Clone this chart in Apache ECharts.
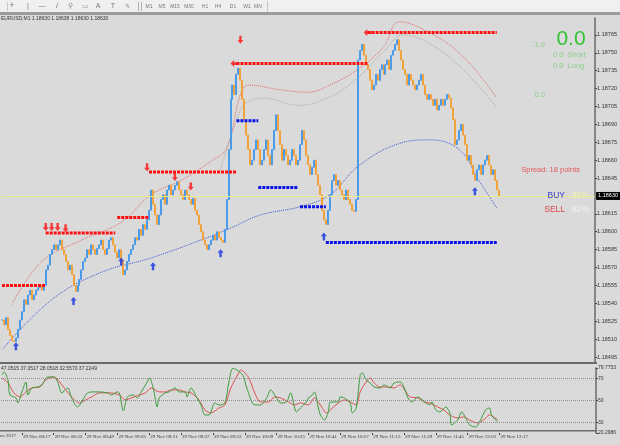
<!DOCTYPE html>
<html><head><meta charset="utf-8">
<script src="https://cdn.jsdelivr.net/npm/echarts@6/dist/echarts.min.js"></script>
<style>html,body{margin:0;padding:0;background:#dadada;}#c{width:620px;height:445px;}</style>
</head><body><div id="c"></div>
<script>
// ---------- data ----------
const symbolName = 'EURUSD,M1';
const quoteHeader = '1.18630 1.18638 1.18630 1.18630';
const dayLabel = '29 Nov';
const dateLabel = '29 Nov 2017';
const startTime = '08:07';
const slotCount = 299;
const timeTicks = ['08:17','08:33','08:49','09:05','09:21','09:37','09:53','10:09','10:25','10:41','10:57','11:13','11:29','11:45','12:01','12:17'];
const priceTicks = [1.18495,1.18510,1.18525,1.18540,1.18555,1.18570,1.18585,1.18600,1.18615,1.18630,1.18645,1.18660,1.18675,1.18690,1.18705,1.18720,1.18735,1.18750,1.18765];
const currentPrice = 1.18630;
const closes = [
1.18526,1.18522,1.18528,1.18518,1.18513,1.18509,1.18508,1.18511,1.18518,1.18526,
1.18533,1.18543,1.18539,1.18547,1.18551,1.18543,1.18547,1.18551,1.18553,1.18555,
1.18551,1.18555,1.18568,1.18572,1.18581,1.18585,1.18589,1.18585,1.18589,1.18593,
1.18585,1.18581,1.18575,1.18568,1.18572,1.18564,1.18555,1.18550,1.18555,1.18560,
1.18568,1.18575,1.18578,1.18585,1.18581,1.18589,1.18585,1.18581,1.18586,1.18589,
1.18593,1.18585,1.18581,1.18586,1.18593,1.18595,1.18589,1.18583,1.18578,1.18585,
1.18575,1.18564,1.18568,1.18575,1.18581,1.18585,1.18589,1.18595,1.18593,1.18602,
1.18597,1.18606,1.18602,1.18610,1.18618,1.18635,1.18623,1.18614,1.18606,1.18614,
1.18627,1.18631,1.18623,1.18635,1.18639,1.18631,1.18635,1.18639,1.18642,1.18635,
1.18631,1.18627,1.18635,1.18631,1.18627,1.18623,1.18628,1.18618,1.18614,1.18606,
1.18600,1.18593,1.18589,1.18585,1.18589,1.18593,1.18597,1.18593,1.18600,1.18595,
1.18593,1.18591,1.18602,1.18627,1.18669,1.18711,1.18723,1.18715,1.18732,1.18737,
1.18727,1.18711,1.18694,1.18681,1.18669,1.18656,1.18660,1.18669,1.18677,1.18669,
1.18656,1.18660,1.18669,1.18677,1.18664,1.18656,1.18669,1.18685,1.18698,1.18685,
1.18673,1.18660,1.18669,1.18664,1.18656,1.18660,1.18669,1.18664,1.18656,1.18660,
1.18673,1.18685,1.18677,1.18664,1.18656,1.18648,1.18654,1.18660,1.18648,1.18639,
1.18631,1.18618,1.18610,1.18606,1.18618,1.18631,1.18643,1.18648,1.18639,1.18643,
1.18635,1.18631,1.18627,1.18635,1.18627,1.18623,1.18618,1.18617,1.18627,1.18744,
1.18752,1.18757,1.18748,1.18740,1.18736,1.18727,1.18719,1.18723,1.18732,1.18727,
1.18736,1.18740,1.18732,1.18740,1.18744,1.18736,1.18748,1.18752,1.18757,1.18761,
1.18752,1.18744,1.18736,1.18732,1.18723,1.18732,1.18727,1.18723,1.18719,1.18723,
1.18727,1.18732,1.18723,1.18715,1.18711,1.18715,1.18711,1.18706,1.18711,1.18702,
1.18706,1.18711,1.18706,1.18711,1.18715,1.18712,1.18704,1.18694,1.18673,1.18677,
1.18685,1.18690,1.18681,1.18673,1.18660,1.18664,1.18656,1.18648,1.18643,1.18652,
1.18656,1.18648,1.18656,1.18660,1.18664,1.18656,1.18648,1.18652,1.18643,1.18635,
1.18630];
// [startBar, endBar, price]
const redLevels = [[0,22,1.18555],[22,57,1.18599],[58,74,1.18612],[74,118,1.18650],[118,184,1.18741],[184,249,1.18767]];
const blueLevels = [[118,129,1.18693],[129,149,1.18637],[150,163,1.18621],[163,249,1.18591]];
// [bar, price]
const sellArrows = [[22,1.18604],[25,1.18604],[28,1.18604],[32,1.18603],[73,1.18654],[87,1.18646],[95,1.18638],[120,1.18761]];
const buyArrows = [[7,1.18504],[36,1.18542],[60,1.18575],[76,1.18571],[110,1.18582],[162,1.18596],[238,1.18634]];
const levelStartArrows = [[117,1.18741],[184,1.18767]];
const bandUpper = [[5,1.18539],[20,1.18575],[40,1.18593],[60,1.18608],[75,1.18631],[90,1.18643],[105,1.18659],[113,1.18670],[120,1.18715],[124,1.18723],[140,1.18719],[154,1.18717],[165,1.18723],[179,1.18736],[192,1.18755],[200,1.18776],[215,1.18767],[232,1.18747],[249,1.18712]];
const bandMid = [[110,1.18652],[120,1.18702],[124,1.18709],[132,1.18712],[149,1.18706],[165,1.18713],[179,1.18729],[192,1.18751],[202,1.18765],[215,1.18758],[232,1.18736],[249,1.18704]];
const bandLower = [[0,1.18501],[25,1.18543],[50,1.18566],[75,1.18578],[100,1.18593],[115,1.18603],[130,1.18614],[150,1.18621],[165,1.18631],[180,1.18656],[200,1.18674],[215,1.18677],[230,1.18669],[240,1.18643],[249,1.18620]];
const stochMain = [[0,73.4],[1,76.2],[3,68.8],[4,55.1],[7,52.4],[8,47.8],[10,57.9],[12,67.0],[13,55.1],[15,61.5],[18,62.4],[20,64.3],[23,71.6],[26,71.6],[28,67.0],[30,57.0],[33,61.5],[35,52.4],[38,44.1],[40,48.7],[43,57.0],[46,57.9],[49,57.9],[53,57.0],[55,55.1],[58,57.9],[59,57.0],[61,40.5],[63,53.3],[66,55.1],[68,52.4],[70,57.9],[73,67.0],[74,70.7],[76,61.5],[78,44.1],[79,52.4],[82,57.0],[84,57.9],[87,61.5],[89,57.9],[92,57.9],[93,53.3],[95,61.5],[98,52.4],[100,46.0],[102,36.8],[104,36.8],[107,47.8],[109,46.0],[112,47.8],[114,67.0],[116,79.5],[118,78.0],[121,73.4],[123,61.5],[127,46.0],[130,46.0],[133,52.4],[135,59.7],[138,52.4],[140,47.8],[143,48.7],[145,57.0],[148,39.6],[150,43.2],[153,48.7],[154,52.4],[156,55.1],[157,57.9],[159,43.2],[160,36.8],[162,32.2],[164,39.6],[165,48.7],[169,48.7],[170,53.3],[172,52.4],[175,47.8],[176,38.7],[178,43.2],[180,73.4],[181,75.3],[183,68.8],[185,66.1],[187,62.4],[190,61.5],[192,64.3],[195,61.5],[197,66.1],[200,67.0],[202,62.4],[204,52.4],[206,48.7],[209,53.3],[210,52.4],[213,47.8],[215,46.0],[216,48.7],[218,41.4],[220,39.6],[223,44.1],[225,38.7],[226,27.7],[229,32.2],[231,39.6],[233,34.1],[235,27.7],[238,25.8],[240,30.4],[243,41.4],[245,43.2],[246,36.8],[249,30.4]];
const stochSignal = [[0,70.7],[3,66.1],[6,57.0],[9,53.3],[12,57.9],[15,61.5],[19,62.4],[22,68.8],[26,71.6],[29,67.0],[32,59.7],[35,53.3],[39,47.8],[42,50.5],[45,53.3],[49,57.0],[54,57.0],[59,55.1],[62,50.5],[65,52.4],[69,55.1],[72,57.0],[75,61.5],[79,57.9],[82,57.9],[85,59.7],[89,59.7],[92,57.9],[95,57.0],[99,50.5],[102,41.4],[105,38.7],[109,43.2],[112,46.0],[115,61.5],[119,75.3],[120,78.0],[124,70.7],[127,57.0],[130,48.7],[134,48.7],[137,53.3],[140,52.4],[144,48.7],[147,46.0],[150,47.8],[154,46.0],[157,52.4],[160,46.0],[163,38.7],[165,41.4],[169,47.8],[172,50.5],[175,48.7],[178,46.0],[180,57.9],[183,67.0],[185,70.7],[187,66.1],[190,62.4],[194,62.4],[197,61.5],[200,64.3],[203,57.9],[205,53.3],[209,52.4],[212,48.7],[215,47.8],[219,44.1],[222,41.4],[225,36.8],[229,34.1],[232,35.0],[235,32.2],[239,29.5],[242,32.2],[245,36.8],[247,35.0],[249,32.2]];
const stochTicks = [20.2986,30,50,70,79.7753];
const stochLevels = [30,50,70];
const stochHeader = '47.0515 37.0517 28.0518 32.5570 37.2249';
const panelTexts = {sum:'0.0', net:'-1.9', shortTxt:'0.0  Short', longTxt:'0.0  Long', mid:'0.0', spread:'Spread: 18 points', buy:'BUY', buyPct:'36%', sell:'SELL', sellPct:'62%'};
const toolbarFrames = ['M1','M5','M15','M30','H1','H4','D1','W1','MN'];

// ---------- helpers ----------
const toPts = p => Math.round((p - 1.18) * 1e7) / 100;
const cats = [];
{ let [h, m] = startTime.split(':').map(Number);
  for (let i = 0; i < slotCount; i++) { cats.push(String(h).padStart(2,'0') + ':' + String(m).padStart(2,'0')); m++; if (m === 60) { m = 0; h++; } } }
const candles = closes.map((c, i) => { const o = i ? closes[i-1] : c; return [toPts(o), toPts(c), toPts(Math.min(o,c)), toPts(Math.max(o,c))]; });
const FONT = 'Liberation Sans';
const NARROW = 'Liberation Sans Narrow';
const showTime = (idx) => timeTicks.includes(cats[idx]);

const series = [];
series.push({type:'candlestick', xAxisIndex:0, yAxisIndex:0, data:candles, barWidth:1.5, z:3,
  itemStyle:{color:'#4b9be8', color0:'#f2a23c', borderColor:'#4b9be8', borderColor0:'#f2a23c', borderWidth:1},
  markLine:{silent:true, symbol:'none', animation:false, data:[{yAxis:toPts(currentPrice)}],
    lineStyle:{color:'#e9e98e', width:1, type:'solid'},
    label:{show:true, position:'end', distance:1, formatter: currentPrice.toFixed(5), backgroundColor:'#000', color:'#fff', fontSize:5.5, fontFamily:FONT, padding:[1,2]}}});
[[bandUpper,'#e06868'],[bandMid,'#a9a9a9'],[bandLower,'#3c56d6']].forEach(([arr,col]) => {
  series.push({type:'line', xAxisIndex:0, yAxisIndex:0, data:arr.map(([i,p]) => [i,toPts(p)]), smooth:0.4, showSymbol:false, z:2,
    lineStyle:{type:'dotted', color:col, width:1}});
});
redLevels.forEach(([a,b,p]) => series.push({type:'line', xAxisIndex:0, yAxisIndex:0, data:[[a,toPts(p)],[b,toPts(p)]], showSymbol:false, z:4,
  lineStyle:{color:'#ff1010', width:3, type:[3,1]}}));
blueLevels.forEach(([a,b,p]) => series.push({type:'line', xAxisIndex:0, yAxisIndex:0, data:[[a,toPts(p)],[b,toPts(p)]], showSymbol:false, z:4,
  lineStyle:{color:'#0a14e6', width:3, type:[3,1]}}));
series.push({type:'scatter', xAxisIndex:0, yAxisIndex:0, data:sellArrows.map(([i,p]) => [i,toPts(p)]), z:5,
  symbol:'path://M3,0 L7,0 L7,6 L10,6 L5,11 L0,6 L3,6 Z', symbolSize:[6,8], itemStyle:{color:'#ff1010'}});
series.push({type:'scatter', xAxisIndex:0, yAxisIndex:0, data:buyArrows.map(([i,p]) => [i,toPts(p)]), z:5,
  symbol:'path://M5,0 L10,5 L7,5 L7,11 L3,11 L3,5 L0,5 Z', symbolSize:[6,8], itemStyle:{color:'#1030e0'}});
series.push({type:'scatter', xAxisIndex:0, yAxisIndex:0, data:levelStartArrows.map(([i,p]) => [i,toPts(p)]), z:5,
  symbol:'path://M0,5 L5,0 L5,3 L11,3 L11,7 L5,7 L5,10 Z', symbolSize:[8,7], itemStyle:{color:'#ff1010'}});
series.push({type:'line', xAxisIndex:1, yAxisIndex:1, data:stochSignal, smooth:0.3, showSymbol:false, z:3, lineStyle:{color:'#e05050', width:1},
  markLine:{silent:true, symbol:'none', animation:false, label:{show:false}, lineStyle:{color:'#8e8e8e', type:'dotted', width:1}, data:stochLevels.map(v => ({yAxis:v}))}});
series.push({type:'line', xAxisIndex:1, yAxisIndex:1, data:stochMain, smooth:0.3, showSymbol:false, z:4, lineStyle:{color:'#3c9c3c', width:1}});

const T = (x, y, text, fill, size, extra) => Object.assign({type:'text', x, y, z:20, silent:true,
  style:Object.assign({text, fill, fontSize:size, fontFamily:FONT, verticalAlign:'middle', align:'left'}, extra || {})});
const graphics = [
  {type:'rect', shape:{x:0,y:0,width:620,height:13}, style:{fill:'#f0f0f0'}, z:10},
  {type:'rect', shape:{x:0,y:12,width:620,height:3}, style:{fill:'#9c9c9c'}, z:10},
  {type:'rect', shape:{x:0,y:362,width:597,height:2}, style:{fill:'#6a6a6a'}, z:10},
  {type:'rect', shape:{x:0,y:430,width:597,height:1.5}, style:{fill:'#6a6a6a'}, z:10},
  T(12,6,'+','#777',9,{align:'center'}), T(28,6,'|','#777',7,{align:'center'}), T(42,6,'—','#777',7,{align:'center'}),
  T(57,6,'/','#777',8,{align:'center'}), T(70,6,'⚲','#888',7,{align:'center'}), T(85,6,'▭','#999',7,{align:'center'}),
  T(98,6,'A','#777',7,{align:'center'}), T(113,6,'T','#777',7,{align:'center'}), T(127,6,'✎','#888',6,{align:'center'}),
  {type:'rect', shape:{x:7,y:2,width:1,height:9}, style:{fill:'#c8c8c8'}, z:11},
  {type:'rect', shape:{x:138,y:2,width:1,height:9}, style:{fill:'#b0b0b0'}, z:11},
  {type:'rect', shape:{x:141,y:2,width:1,height:9}, style:{fill:'#b0b0b0'}, z:11},
  {type:'rect', shape:{x:267,y:1,width:1,height:11}, style:{fill:'#c8c8c8'}, z:11},
  T(1,19, symbolName + ' ' + quoteHeader, '#333', 5),
  T(1,368.5, stochHeader, '#333', 5),
  T(16,436, dateLabel, '#333', 5, {align:'right', fontFamily:NARROW}),
  T(545,45, panelTexts.net, '#8ccf8c', 7.5, {align:'right'}),
  T(571,39, panelTexts.sum, '#35c435', 21, {align:'center'}),
  T(553,55, panelTexts.shortTxt, '#8ccf8c', 7.5),
  T(553,65.5, panelTexts.longTxt, '#8ccf8c', 7.5),
  T(545,95, panelTexts.mid, '#8ccf8c', 7.5, {align:'right'}),
  T(580,170, panelTexts.spread, '#e25a5a', 7.5, {align:'right'}),
  T(565,196, panelTexts.buy, '#3c3cc8', 8.5, {align:'right'}),
  T(572,196, panelTexts.buyPct, '#f2f2a8', 8.5),
  T(565,210, panelTexts.sell, '#e04848', 8.5, {align:'right'}),
  T(572,210, panelTexts.sellPct, '#f4f4f4', 8.5)
];
toolbarFrames.forEach((f, k) => graphics.push(T([149,162,175,189,205,218,233,247,258][k], 6.5, f, '#777', 5, {align:'center'})));

const chart = echarts.init(document.getElementById('c'), null, {renderer:'canvas'});
chart.setOption({
  backgroundColor:'#dadada', animation:false,
  grid:[{left:1, top:18, width:595, height:344}, {left:1, top:368, width:595, height:65}],
  xAxis:[
    {type:'category', gridIndex:0, data:cats, show:false, boundaryGap:true},
    {type:'category', gridIndex:1, data:cats, boundaryGap:true, axisLine:{show:false},
     axisTick:{show:true, alignWithLabel:true, interval:showTime, length:2, lineStyle:{color:'#444'}},
     axisLabel:{show:false}, splitLine:{show:false}}
  ],
  yAxis:[
    {type:'value', gridIndex:0, position:'right', min:490.8, max:779.2, splitLine:{show:false},
     axisLine:{show:true, lineStyle:{color:'#6a6a6a', width:1.5}},
     axisTick:{show:true, customValues:priceTicks.map(toPts), length:2, lineStyle:{color:'#444'}},
     axisLabel:{customValues:priceTicks.map(toPts), formatter:v => (1.18 + v/1e5).toFixed(5), fontSize:5.5, color:'#333', fontFamily:FONT, margin:2}},
    {type:'value', gridIndex:1, position:'right', min:20.2986, max:79.7753, splitLine:{show:false},
     axisLine:{show:true, lineStyle:{color:'#6a6a6a', width:1.5}},
     axisTick:{show:true, customValues:stochTicks, length:2, lineStyle:{color:'#444'}},
     axisLabel:{customValues:stochTicks, formatter:v => String(v), fontSize:5, color:'#333', fontFamily:FONT, margin:2}}
  ],
  series, graphic:graphics
});
// time labels placed through the category axis scale
const timeLabelEls = timeTicks.map(t => {
  const x = chart.convertToPixel({xAxisIndex:1}, cats.indexOf(t));
  return T(x + 1, 436.5, dayLabel + ' ' + t, '#333', 5, {fontFamily:NARROW});
});
chart.setOption({graphic: graphics.concat(timeLabelEls)});
</script></body></html>
